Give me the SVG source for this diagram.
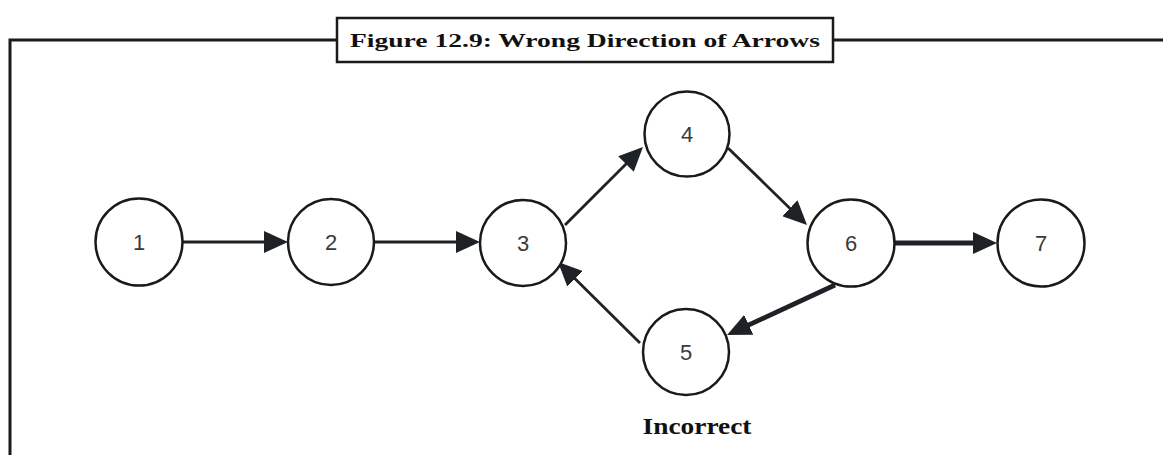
<svg xmlns="http://www.w3.org/2000/svg" width="1163" height="455" viewBox="0 0 1163 455">
<style>
.node circle{fill:#fff;stroke:#1a1a1a;stroke-width:2.5}
.node text{font-family:"Liberation Sans",Arial,sans-serif;font-size:22px;fill:#3a3a3a;text-anchor:middle}
.thin{stroke:#1e2226;stroke-width:2.8;fill:none}
.thick{stroke:#1e2226;stroke-width:4.8;fill:none}
.frame{stroke:#1a1a1a;stroke-width:3;fill:none}
.serif{font-family:"Liberation Serif","Times New Roman",serif;font-weight:bold;fill:#111}
</style>
<defs>
<marker id="ah" markerUnits="userSpaceOnUse" markerWidth="26" markerHeight="22" refX="16" refY="11" orient="auto">
<path d="M0,0 L24,11 L0,22 z" fill="#1e2226"/>
</marker>
</defs>
<rect width="1163" height="455" fill="#fff"/>
<g id="frame">
<path class="frame" d="M337,40 H10 V455 M833,40 H1163"/>
<rect x="337" y="18" width="496" height="44" fill="#fff" stroke="#1a1a1a" stroke-width="2.5"/>
<text class="serif" x="585" y="47" font-size="19" text-anchor="middle" textLength="470" lengthAdjust="spacingAndGlyphs">Figure 12.9: Wrong Direction of Arrows</text>
</g>
<g id="connectors">
<line class="thin" x1="183" y1="242" x2="280" y2="242" marker-end="url(#ah)"/>
<line class="thin" x1="374" y1="242" x2="472" y2="242" marker-end="url(#ah)"/>
<line class="thin" x1="565" y1="225" x2="637.3" y2="152.7" marker-end="url(#ah)"/>
<line class="thin" x1="728" y1="148" x2="801.3" y2="219.4" marker-end="url(#ah)"/>
<line class="thin" x1="640" y1="343" x2="563.7" y2="267.6" marker-end="url(#ah)"/>
<line class="thick" x1="835" y1="285" x2="734.3" y2="331.6" marker-end="url(#ah)"/>
<line class="thick" x1="895" y1="243" x2="989" y2="243" marker-end="url(#ah)"/>
</g>
<g id="n1" class="node"><circle cx="139" cy="242" r="43.5"/><text x="139" y="250">1</text></g>
<g id="n2" class="node"><circle cx="331" cy="242" r="43"/><text x="331" y="250">2</text></g>
<g id="n3" class="node"><circle cx="523" cy="243" r="43"/><text x="523" y="251">3</text></g>
<g id="n4" class="node"><circle cx="687" cy="134" r="42.5"/><text x="687" y="142">4</text></g>
<g id="n5" class="node"><circle cx="686" cy="352" r="43"/><text x="686" y="360">5</text></g>
<g id="n6" class="node"><circle cx="851" cy="243" r="43.5"/><text x="851" y="251">6</text></g>
<g id="n7" class="node"><circle cx="1041" cy="243" r="43.5"/><text x="1041" y="251">7</text></g>
<text class="serif" x="697" y="434" font-size="24" text-anchor="middle" textLength="109" lengthAdjust="spacingAndGlyphs">Incorrect</text>
</svg>
